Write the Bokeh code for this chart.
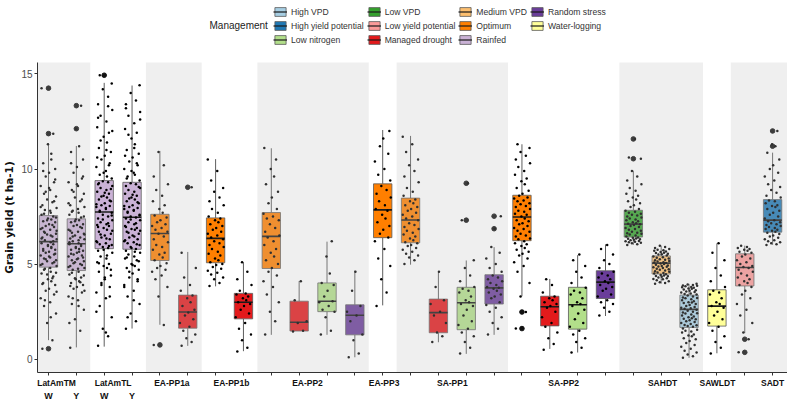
from bokeh.plotting import figure
from bokeh.models import (ColumnDataSource, Range1d, FixedTicker, LinearAxis,
                          Legend, LegendItem, Label)
from bokeh.layouts import column
from bokeh.embed import file_html
from bokeh.resources import INLINE

# ---------------- data ----------------
MANAGEMENT = ["High VPD", "High yield potential", "Low nitrogen", "Low VPD",
              "Low yield potential", "Managed drought", "Medium VPD", "Optimum",
              "Rainfed", "Random stress", "Water-logging"]
COLORS = ["#A6CEE3", "#1F78B4", "#B2DF8A", "#33A02C", "#FB9A99", "#E31A1C",
          "#FDBF6F", "#FF7F00", "#CAB2D6", "#6A3D9A", "#FFFF99"]

GROUP_LABELS = ["LatAmTM", "LatAmTL", "EA-PP1a", "EA-PP1b", "EA-PP2", "EA-PP3",
                "SA-PP1", "SA-PP2", "SAHDT", "SAWLDT", "SADT"]
SUB_LABELS = ["W", "Y", "W", "Y"]

box_group = [0, 0, 1, 1, 2, 2, 3, 3, 4, 4, 4, 4, 5, 6, 6, 6, 6, 7, 7, 7, 7,
             8, 8, 8, 9, 10, 10]
box_mgmt = ["Rainfed", "Rainfed", "Rainfed", "Rainfed",
            "Optimum", "Managed drought", "Optimum", "Managed drought",
            "Optimum", "Managed drought", "Low nitrogen", "Random stress",
            "Optimum",
            "Optimum", "Managed drought", "Low nitrogen", "Random stress",
            "Optimum", "Managed drought", "Low nitrogen", "Random stress",
            "Low VPD", "Medium VPD", "High VPD",
            "Water-logging",
            "Low yield potential", "High yield potential"]

box_lo = [1.00, 0.62, 0.66, 1.61, 1.81, 0.70, 3.83, 0.42, 1.28, 1.48, 1.28, 0.10,
          2.83, 4.97, 0.89, 0.28, 1.28, 3.31, 0.54, 0.35, 2.27, 6.01, 3.97, 0.07,
          0.31, 1.37, 6.01]
box_q1 = [4.84, 4.66, 5.81, 5.78, 5.19, 1.63, 5.07, 2.12, 4.77, 1.48, 2.50, 1.28,
          6.39, 6.12, 1.39, 1.55, 2.90, 6.23, 1.75, 1.58, 3.19, 6.42, 4.48, 1.67,
          1.74, 3.85, 6.68]
box_med = [6.18, 6.07, 7.74, 7.46, 6.61, 2.48, 6.35, 2.99, 6.46, 1.94, 3.05, 2.31,
           7.85, 7.32, 2.45, 2.97, 3.75, 7.48, 2.76, 2.86, 4.05, 7.10, 5.05, 2.62,
           2.79, 4.82, 7.31]
box_q3 = [7.55, 7.38, 9.39, 9.30, 7.62, 3.37, 7.43, 3.46, 7.71, 3.05, 4.01, 2.86,
          9.22, 8.47, 3.16, 3.78, 4.44, 8.62, 3.31, 3.78, 4.65, 7.83, 5.43, 3.37,
          3.65, 5.54, 8.39]
box_hi = [11.34, 11.21, 14.53, 14.39, 10.95, 5.64, 10.52, 5.09, 11.09, 4.11, 6.18,
          4.66, 12.05, 11.74, 4.58, 5.19, 5.89, 11.30, 4.22, 5.47, 6.04, 9.91, 5.97,
          3.96, 6.09, 5.97, 10.86]

outliers = [[14.25, 11.86, 0.55], [13.33, 12.12], [14.93], [], [0.75], [9.04], [],
            [], [], [], [], [], [], [], [], [9.25, 7.31], [7.52, 6.86], [2.48, 1.61],
            [], [], [], [11.58, 10.54], [], [], [], [1.05, 0.36], [12.0, 11.2]]

points = [
    # 1 LatAmTM W
    [0.55, 1.0, 1.9, 2.4, 2.8, 3.0, 3.2, 3.4, 3.6, 3.7, 3.9, 4.0, 4.1, 4.2, 4.35, 4.5, 4.6, 4.75,
     4.9, 5.0, 5.05, 5.15, 5.2, 5.3, 5.35, 5.45, 5.5, 5.6, 5.65, 5.75, 5.8, 5.9, 5.95, 6.05, 6.1,
     6.15, 6.25, 6.3, 6.4, 6.45, 6.55, 6.6, 6.7, 6.8, 6.85, 6.95, 7.0, 7.1, 7.2, 7.25, 7.35, 7.4,
     7.5, 7.6, 7.7, 7.85, 7.95, 8.1, 8.25, 8.4, 8.55, 8.7, 8.9, 9.1, 9.3, 9.6, 9.8, 10.0, 10.3,
     10.8, 11.3, 11.86, 14.25,
     2.2, 3.1, 3.55, 3.95, 4.25, 4.45, 4.55, 4.7, 4.8, 4.95, 5.1, 5.25, 5.4, 5.55, 5.7, 5.85,
     6.0, 6.2, 6.35, 6.5, 6.65, 6.75, 6.9, 7.05, 7.3, 7.45, 7.65, 7.8, 8.0, 8.3, 8.8, 9.0, 9.45,
     9.9, 10.5],
    # 2 LatAmTM Y
    [0.6, 1.5, 2.1, 2.6, 2.9, 3.1, 3.3, 3.5, 3.7, 3.8, 3.9, 4.0, 4.1, 4.2, 4.3, 4.45, 4.6,
     4.7, 4.8, 4.9, 5.0, 5.1, 5.15, 5.2, 5.3, 5.4, 5.45, 5.5, 5.6, 5.7, 5.75, 5.8, 5.9, 6.0, 6.05,
     6.1, 6.2, 6.3, 6.35, 6.4, 6.5, 6.6, 6.65, 6.7, 6.8, 6.9, 7.0, 7.05, 7.1, 7.2, 7.3, 7.35,
     7.45, 7.6, 7.7, 7.8, 8.0, 8.1, 8.3, 8.5, 8.7, 8.9, 9.1, 9.3, 9.5, 9.8, 10.1, 10.5, 10.9,
     11.2, 12.12, 13.33,
     1.9, 2.8, 3.2, 3.6, 3.85, 4.05, 4.25, 4.4, 4.55, 4.75, 4.85, 4.95, 5.05, 5.25, 5.35, 5.55,
     5.65, 5.85, 5.95, 6.15, 6.25, 6.45, 6.55, 6.75, 6.95, 7.25, 7.5, 7.75, 7.9, 8.2, 8.4, 8.8,
     9.2, 9.6, 10.3],
    # 3 LatAmTL W
    [0.7, 1.2, 1.6, 2.2, 2.8, 3.2, 3.5, 3.8, 4.0, 4.2, 4.4, 4.6, 4.8, 4.9, 5.0, 5.1, 5.3, 5.4,
     5.6, 5.7, 5.85, 5.9, 6.0, 6.05, 6.1, 6.2, 6.3, 6.4, 6.5, 6.6, 6.7, 6.8, 6.9, 7.0, 7.05, 7.1,
     7.2, 7.3, 7.4, 7.5, 7.6, 7.7, 7.8, 7.9, 8.0, 8.05, 8.1, 8.2, 8.3, 8.4, 8.5, 8.6, 8.7, 8.8,
     8.9, 9.0, 9.1, 9.2, 9.3, 9.35, 9.5, 9.7, 9.9, 10.1, 10.3, 10.5, 10.7, 10.9, 11.1, 11.4,
     11.7, 11.9, 12.2, 12.5, 12.8, 13.1, 13.4, 13.8, 14.2, 14.5, 14.93,
     1.4, 2.5, 3.3, 3.9, 4.3, 4.7, 5.05, 5.45, 5.75, 5.95, 6.15, 6.35, 6.55, 6.75, 6.95, 7.15,
     7.35, 7.55, 7.75, 7.95, 8.15, 8.35, 8.55, 8.75, 8.95, 9.25, 9.6, 9.8, 10.2, 10.6, 11.0,
     11.5, 12.0, 12.7, 13.3],
    # 4 LatAmTL Y
    [1.6, 2.0, 2.4, 2.9, 3.3, 3.6, 3.9, 4.1, 4.3, 4.5, 4.7, 4.8, 4.9, 5.0, 5.2, 5.3, 5.4, 5.5,
     5.6, 5.7, 5.8, 5.9, 6.0, 6.1, 6.15, 6.2, 6.3, 6.4, 6.5, 6.6, 6.7, 6.8, 6.85, 6.9, 7.0, 7.1,
     7.2, 7.3, 7.4, 7.45, 7.5, 7.6, 7.7, 7.8, 7.9, 7.95, 8.0, 8.1, 8.2, 8.3, 8.4, 8.5, 8.6, 8.7,
     8.8, 8.9, 9.0, 9.1, 9.2, 9.25, 9.4, 9.6, 9.8, 10.0, 10.2, 10.4, 10.6, 10.8, 11.0, 11.3,
     11.6, 11.9, 12.1, 12.4, 12.8, 13.0, 13.2, 13.6, 14.0, 14.4,
     2.2, 3.1, 3.8, 4.2, 4.6, 4.95, 5.15, 5.35, 5.65, 5.85, 6.05, 6.25, 6.45, 6.65, 6.75, 6.95,
     7.15, 7.35, 7.55, 7.75, 7.85, 8.05, 8.25, 8.45, 8.65, 9.05, 9.5, 9.7, 9.9, 10.3, 10.7,
     11.1, 11.8, 12.6, 13.4],
    # 5 EA-PP1a Optimum
    [0.75, 1.8, 3.3, 3.8, 4.2, 4.4, 4.6, 4.7, 4.8, 4.9, 5.05, 5.2, 5.35, 5.5, 5.6, 5.75, 5.9,
     6.0, 6.15, 6.3, 6.45, 6.6, 6.7, 6.8, 6.9, 7.0, 7.1, 7.2, 7.3, 7.45, 7.55, 7.7, 7.9, 8.1,
     8.3, 8.6, 8.9, 9.2, 9.6, 10.2, 10.9],
    # 6 EA-PP1a Managed drought
    [0.7, 0.9, 1.1, 1.3, 1.5, 1.7, 1.9, 2.1, 2.3, 2.45, 2.6, 2.8, 3.0, 3.2, 3.35, 3.6, 3.9,
     4.3, 4.8, 5.6, 9.04],
    # 7 EA-PP1b Optimum
    [3.85, 4.0, 4.2, 4.3, 4.45, 4.55, 4.65, 4.75, 4.85, 4.95, 5.0, 5.1, 5.2, 5.3, 5.45, 5.55,
     5.65, 5.8, 5.9, 6.0, 6.1, 6.2, 6.3, 6.4, 6.5, 6.6, 6.7, 6.8, 6.9, 7.0, 7.1, 7.2, 7.3, 7.4,
     7.5, 7.7, 7.9, 8.1, 8.3, 8.5, 8.8, 9.0, 9.4, 9.9, 10.5],
    # 8 EA-PP1b Managed drought
    [0.4, 0.6, 1.0, 1.3, 1.6, 1.9, 2.2, 2.4, 2.6, 2.8, 2.9, 3.0, 3.1, 3.2, 3.3, 3.4, 3.45,
     3.6, 3.9, 4.2, 4.6, 5.1],
    # 9 EA-PP2 Optimum
    [1.3, 2.0, 2.5, 3.0, 3.4, 3.8, 4.1, 4.4, 4.6, 4.8, 5.0, 5.2, 5.4, 5.6, 5.8, 6.0, 6.2, 6.4,
     6.5, 6.7, 6.9, 7.1, 7.3, 7.4, 7.5, 7.65, 7.9, 8.2, 8.5, 8.8, 9.2, 9.6, 10.0, 10.5, 11.1],
    # 10 EA-PP2 Managed drought
    [1.45, 1.5, 1.9, 2.0, 3.1, 4.1],
    # 11 EA-PP2 Low nitrogen
    [1.3, 1.5, 2.2, 2.5, 2.6, 2.8, 3.0, 3.05, 3.3, 3.6, 3.9, 4.0, 4.5, 5.4, 6.2],
    # 12 EA-PP2 Random stress
    [0.1, 0.3, 1.0, 1.3, 2.0, 2.3, 2.5, 2.8, 3.6, 4.6],
    # 13 EA-PP3 Optimum
    [2.8, 3.5, 4.2, 4.9, 5.3, 5.8, 6.2, 6.4, 6.6, 6.8, 7.0, 7.2, 7.4, 7.6, 7.8, 7.9, 8.1, 8.3,
     8.5, 8.7, 8.9, 9.1, 9.4, 9.7, 10.0, 10.4, 10.8, 11.2, 11.6, 12.0],
    # 14 SA-PP1 Optimum
    [5.0, 5.2, 5.35, 5.45, 5.55, 5.65, 5.75, 5.85, 5.95, 6.0, 6.1, 6.15, 6.25, 6.35, 6.45,
     6.55, 6.65, 6.75, 6.85, 6.95, 7.05, 7.15, 7.3, 7.4, 7.5, 7.6, 7.7, 7.8, 7.9, 8.0, 8.1,
     8.2, 8.3, 8.4, 8.6, 8.8, 9.0, 9.3, 9.6, 9.9, 10.2, 10.5, 10.9, 11.3, 11.7],
    # 15 SA-PP1 Managed drought
    [0.9, 1.2, 1.4, 1.9, 2.3, 2.5, 2.9, 3.1, 3.8, 4.6],
    # 16 SA-PP1 Low nitrogen
    [0.3, 0.6, 0.9, 1.2, 1.4, 1.6, 1.8, 2.0, 2.3, 2.6, 2.8, 2.9, 3.0, 3.1, 3.3, 3.5, 3.6, 3.7,
     3.8, 4.1, 4.4, 4.8, 5.2, 7.31, 9.25],
    # 17 SA-PP1 Random stress
    [1.3, 1.6, 1.9, 2.2, 2.5, 2.7, 2.85, 3.0, 3.2, 3.3, 3.4, 3.5, 3.6, 3.7, 3.75, 3.8, 3.9,
     4.0, 4.1, 4.2, 4.3, 4.4, 4.6, 4.8, 5.0, 5.3, 5.6, 5.9, 6.86, 7.52],
    # 18 SA-PP2 Optimum
    [1.61, 2.48, 3.3, 4.0, 4.6, 4.9, 5.1, 5.3, 5.45, 5.55, 5.65, 5.75, 5.85, 5.95, 6.05, 6.1,
     6.2, 6.3, 6.35, 6.45, 6.5, 6.6, 6.7, 6.75, 6.85, 6.9, 7.0, 7.1, 7.15, 7.25, 7.3, 7.4, 7.5,
     7.6, 7.65, 7.75, 7.8, 7.9, 8.0, 8.05, 8.15, 8.2, 8.3, 8.35, 8.45, 8.5, 8.6, 8.7, 8.85, 9.0,
     9.2, 9.35, 9.5, 9.7, 9.9, 10.1, 10.3, 10.5, 10.7, 10.9, 11.1, 11.3],
    # 19 SA-PP2 Managed drought
    [0.5, 0.8, 1.1, 1.4, 1.7, 1.9, 2.2, 2.5, 2.7, 2.8, 2.9, 3.0, 3.1, 3.2, 3.3, 3.5, 3.9, 4.2],
    # 20 SA-PP2 Low nitrogen
    [0.35, 0.6, 0.9, 1.1, 1.3, 1.5, 1.7, 1.9, 2.1, 2.4, 2.6, 2.8, 2.9, 3.0, 3.2, 3.4, 3.5,
     3.6, 3.75, 4.0, 4.3, 4.6, 4.9, 5.2, 5.5],
    # 21 SA-PP2 Random stress
    [2.3, 2.5, 2.7, 2.9, 3.0, 3.1, 3.3, 3.4, 3.6, 3.7, 3.8, 3.9, 4.0, 4.1, 4.2, 4.3, 4.4, 4.5,
     4.6, 4.8, 5.0, 5.2, 5.5, 5.8, 6.0],
    # 22 SAHDT Low VPD
    [6.0, 6.05, 6.1, 6.12, 6.15, 6.18, 6.2, 6.22, 6.25, 6.28, 6.3, 6.33, 6.35, 6.38, 6.4,
     6.45, 6.5, 6.55, 6.6, 6.62, 6.65, 6.7, 6.75, 6.8, 6.85, 6.9, 6.95, 7.0, 7.05, 7.1, 7.12,
     7.15, 7.2, 7.25, 7.3, 7.35, 7.4, 7.45, 7.5, 7.55, 7.6, 7.65, 7.7, 7.75, 7.8, 7.9, 8.0, 8.1,
     8.2, 8.3, 8.4, 8.5, 8.6, 8.7, 8.85, 9.0, 9.2, 9.4, 9.6, 9.9, 10.54, 10.6, 11.58],
    # 23 SAHDT Medium VPD
    [3.97, 4.0, 4.05, 4.1, 4.15, 4.2, 4.22, 4.25, 4.3, 4.33, 4.36, 4.38, 4.4, 4.43, 4.46, 4.5,
     4.53, 4.56, 4.6, 4.63, 4.66, 4.7, 4.73, 4.76, 4.8, 4.83, 4.86, 4.88, 4.9, 4.93, 4.96, 5.0,
     5.03, 5.06, 5.08, 5.1, 5.13, 5.16, 5.2, 5.23, 5.26, 5.3, 5.33, 5.36, 5.4, 5.45, 5.5, 5.52,
     5.55, 5.58, 5.6, 5.63, 5.66, 5.7, 5.73, 5.76, 5.8, 5.85, 5.9, 5.97],
    # 24 SAHDT High VPD
    [0.07, 0.15, 0.25, 0.35, 0.45, 0.55, 0.65, 0.75, 0.85, 0.95, 1.05, 1.1, 1.2, 1.25, 1.3,
     1.4, 1.45, 1.5, 1.55, 1.62, 1.7, 1.75, 1.78, 1.8, 1.85, 1.9, 1.95, 2.0, 2.05, 2.1, 2.12,
     2.15, 2.2, 2.25, 2.3, 2.35, 2.4, 2.42, 2.45, 2.5, 2.55, 2.6, 2.65, 2.68, 2.7, 2.75, 2.8,
     2.85, 2.9, 2.95, 2.98, 3.0, 3.05, 3.1, 3.15, 3.2, 3.22, 3.25, 3.3, 3.35, 3.4, 3.43, 3.46,
     3.5, 3.53, 3.56, 3.6, 3.63, 3.66, 3.7, 3.72, 3.75, 3.78, 3.8, 3.83, 3.86, 3.88, 3.9, 3.93,
     3.96],
    # 25 SAWLDT Water-logging
    [0.3, 0.6, 0.9, 1.2, 1.5, 1.7, 1.9, 2.1, 2.3, 2.5, 2.7, 2.8, 2.9, 3.0, 3.2, 3.4, 3.5, 3.6,
     3.8, 4.1, 4.4, 4.8, 5.2, 5.6, 6.1],
    # 26 SADT Low yield potential
    [0.36, 1.05, 1.4, 1.9, 2.3, 2.6, 2.9, 3.2, 3.4, 3.6, 3.8, 3.9, 4.0, 4.1, 4.2, 4.3, 4.4,
     4.5, 4.6, 4.7, 4.8, 4.85, 4.9, 5.0, 5.1, 5.2, 5.3, 5.4, 5.5, 5.6, 5.65, 5.7, 5.75, 5.8,
     5.85, 5.9, 5.97],
    # 27 SADT High yield potential
    [6.0, 6.05, 6.1, 6.15, 6.2, 6.25, 6.3, 6.38, 6.45, 6.5, 6.58, 6.65, 6.7, 6.75, 6.8, 6.85,
     6.9, 6.95, 7.0, 7.05, 7.1, 7.15, 7.2, 7.25, 7.3, 7.4, 7.5, 7.6, 7.7, 7.8, 7.9, 8.0, 8.05,
     8.1, 8.2, 8.3, 8.35, 8.5, 8.6, 8.75, 8.9, 9.05, 9.2, 9.4, 9.6, 9.8, 10.0, 10.2, 10.5,
     10.85, 11.2, 11.3, 12.0],
]

Y_TICKS = [0, 5, 10, 15]

# ---------------- layout / style constants ----------------
FRAME_W = 750
FRAME_H = 310
BORDER_LEFT = 36
LEG_H = 48
HALF = 0.33                      # half box width (x units)
JIT = [-0.22, 0.14, -0.05, 0.27, -0.16, 0.06, -0.28, 0.2, -0.1, 0.02, 0.24,
       -0.19, 0.1, -0.02, 0.17, -0.25, 0.08, -0.13, 0.29]
GROUP_LABEL_POS = [1.29, 3.32, 5.43, 7.57, 10.3, 13.05, 15.5, 19.5, 23.05, 25.02, 27.0]
SANS = "Liberation Sans"

color_of = dict(zip(MANAGEMENT, COLORS))
xpos = list(range(1, len(box_mgmt) + 1))

# ---------------- main figure ----------------
p = figure(frame_width=FRAME_W, frame_height=FRAME_H,
           x_range=Range1d(0.605, 27.535), y_range=Range1d(-0.7, 15.6),
           output_backend="svg", toolbar_location=None,
           min_border_top=14, min_border_right=0,
           min_border_left=BORDER_LEFT, min_border_bottom=0)
p.outline_line_color = None
p.grid.visible = False
p.background_fill_color = "white"

box_src = ColumnDataSource(dict(
    x=xpos,
    left=[x - HALF for x in xpos], right=[x + HALF for x in xpos],
    lo=box_lo, q1=box_q1, med=box_med, q3=box_q3, hi=box_hi,
    color=[color_of[m] for m in box_mgmt]))

p.segment(x0="x", y0="q3", x1="x", y1="hi", source=box_src,
          line_color="#5E5E5E", line_width=1)
p.segment(x0="x", y0="lo", x1="x", y1="q1", source=box_src,
          line_color="#5E5E5E", line_width=1)
p.quad(left="left", right="right", bottom="q1", top="q3", source=box_src,
       fill_color="color", line_color="#5A5A5A", line_width=0.8)
p.segment(x0="left", y0="med", x1="right", y1="med", source=box_src,
          line_color="#1A1A1A", line_width=1.6)

ox, oy = [], []
for x, vals in zip(xpos, outliers):
    for v in vals:
        ox.append(x)
        oy.append(v)
p.scatter(ox, oy, size=4.6, color="#111111")

px, py = [], []
for x, vals in zip(xpos, points):
    for i, v in enumerate(vals):
        px.append(x + JIT[i % len(JIT)])
        py.append(v)
p.scatter(px, py, size=2.5, color="#000000", line_width=0)

# grey panels (drawn on top with transparency, as in the original)
ngroups = len(GROUP_LABELS)
bl, br = [], []
for g in range(0, ngroups, 2):
    members = [x for x, gg in zip(xpos, box_group) if gg == g]
    left = min(members) - 0.5 if g > 0 else -5
    right = max(members) + 0.5 if g < ngroups - 1 else 40
    bl.append(left)
    br.append(right)
p.quad(left=bl, right=br, bottom=-50, top=50, fill_color="#BEBEBE",
       fill_alpha=0.25, line_color=None)

# y axis
p.yaxis.ticker = FixedTicker(ticks=Y_TICKS)
p.yaxis.minor_tick_line_color = None
p.yaxis.major_tick_out = 3
p.yaxis.major_tick_in = 0
p.yaxis.axis_line_color = "#333333"
p.yaxis.major_tick_line_color = "#333333"
p.yaxis.major_label_text_font = SANS
p.yaxis.major_label_text_font_size = "10px"
p.yaxis.major_label_text_color = "#4D4D4D"
p.yaxis.major_label_standoff = 2
p.yaxis.axis_label = "Grain yield (t ha-1)"
p.yaxis.axis_label_text_font = "DejaVu Sans"
p.yaxis.axis_label_text_font_style = "bold"
p.yaxis.axis_label_text_font_size = "10.5px"
p.yaxis.axis_label_text_color = "#111111"
p.yaxis.axis_label_standoff = 3

# x axis: group labels as major labels, one tick per box as minor ticks
p.xaxis.ticker = FixedTicker(ticks=GROUP_LABEL_POS, minor_ticks=xpos)
p.xaxis.major_label_overrides = {pos: lab for pos, lab in zip(GROUP_LABEL_POS, GROUP_LABELS)}
p.xaxis.major_tick_line_color = None
p.xaxis.major_tick_out = 3
p.xaxis.major_tick_in = 0
p.xaxis.minor_tick_out = 3
p.xaxis.minor_tick_in = 0
p.xaxis.minor_tick_line_color = "#333333"
p.xaxis.axis_line_color = "#333333"
p.xaxis.major_label_text_font = SANS
p.xaxis.major_label_text_font_style = "bold"
p.xaxis.major_label_text_font_size = "8.5px"
p.xaxis.major_label_text_color = "#111111"
p.xaxis.major_label_standoff = 2

sub_pos = xpos[:len(SUB_LABELS)]
ax2 = LinearAxis(ticker=FixedTicker(ticks=sub_pos),
                 major_label_overrides={x: s for x, s in zip(sub_pos, SUB_LABELS)},
                 axis_line_color=None, major_tick_line_color=None,
                 minor_tick_line_color=None, major_tick_out=0, major_tick_in=0,
                 minor_tick_out=0, minor_tick_in=0,
                 major_label_standoff=0,
                 major_label_text_font=SANS, major_label_text_font_style="bold",
                 major_label_text_font_size="9px",
                 major_label_text_color="#111111")
p.add_layout(ax2, "below")

# ---------------- legend figure (strip above the panel) ----------------
lf = figure(frame_width=FRAME_W, frame_height=LEG_H, x_range=Range1d(0, 1),
            y_range=Range1d(0, 1), output_backend="svg", toolbar_location=None,
            min_border_left=BORDER_LEFT, min_border_right=0, min_border_top=0,
            min_border_bottom=0, x_axis_location=None, y_axis_location=None)
lf.grid.visible = False
lf.outline_line_color = None

items = []
for m in MANAGEMENT:
    # one hidden placeholder row (outside the visible range) so the key glyph is drawn
    r1 = lf.quad(left=[-9], right=[-8], bottom=[-9], top=[-8], fill_color=color_of[m],
                 line_color="#5A5A5A", line_width=0.8)
    r2 = lf.segment(x0=[-9], y0=[-9], x1=[-8], y1=[-9], line_color="#1A1A1A",
                    line_width=1.2)
    items.append(LegendItem(label=m, renderers=[r1, r2]))

leg = Legend(items=items, orientation="vertical", nrows=3, location=(261, 3),
             glyph_width=14, glyph_height=11, label_height=11, spacing=3,
             padding=1, margin=0, label_standoff=4,
             label_text_font=SANS, label_text_font_size="8.6px",
             label_text_color="#333333", border_line_color=None,
             background_fill_alpha=0)
lf.add_layout(leg)

lf.add_layout(Label(x=172, y=23, x_units="screen", y_units="screen",
                    text="Management", text_font=SANS, text_font_size="10px",
                    text_color="#222222", text_baseline="middle"))

layout = column(lf, p, spacing=0)
open("out.html", "w").write(file_html(layout, INLINE))
